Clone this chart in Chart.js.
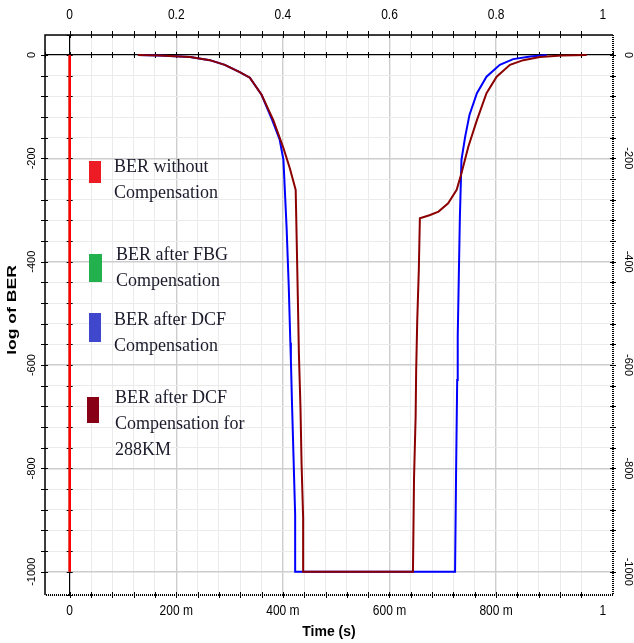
<!DOCTYPE html>
<html>
<head>
<meta charset="utf-8">
<title>log of BER</title>
<script src="https://cdn.jsdelivr.net/npm/chart.js@4.4.1/dist/chart.umd.min.js"></script>
<style>
  html, body { margin: 0; padding: 0; background: #fff; }
  #wrap { width: 634px; height: 643px; }
</style>
</head>
<body>
<div id="wrap"><canvas id="berChart" width="634" height="643"></canvas></div>
<script>
// BER traces vs time (s)
const seriesNames = [
  "BER without Compensation",
  "BER after FBG Compensation",
  "BER after DCF Compensation",
  "BER after DCF Compensation for 288KM"
];
const legendLines = [
  ["BER without", "Compensation"],
  ["BER after FBG", "Compensation"],
  ["BER after DCF", "Compensation"],
  ["BER after DCF", "Compensation for", "288KM"]
];

const redTime = [0, 0];
const redBer = [0, -1000];

const greenTime = [0, 0];
const greenBer = [0, -1000];

const blueTime = [0.128, 0.169, 0.226, 0.263, 0.291, 0.319, 0.338, 0.360, 0.380, 0.394,
  0.401, 0.407, 0.411, 0.414, 0.415, 0.417, 0.420, 0.423, 0.423, 0.723,
  0.725, 0.727, 0.728, 0.730, 0.732, 0.735, 0.742, 0.750, 0.764, 0.782,
  0.807, 0.832, 0.864, 0.895];
const blueBer = [0, -1, -4, -10, -19, -33, -44, -77, -126, -164,
  -203, -335, -448, -557, -590, -671, -780, -890, -1000, -1000,
  -800, -629, -545, -430, -316, -203, -158, -116, -74, -42,
  -19, -8, -3, 0];

const brownTime = [0.128, 0.169, 0.226, 0.263, 0.291, 0.319, 0.338, 0.360, 0.382, 0.401,
  0.413, 0.424, 0.426, 0.428, 0.430, 0.433, 0.435, 0.438, 0.438, 0.644,
  0.646, 0.649, 0.650, 0.652, 0.655, 0.657, 0.675, 0.692, 0.710, 0.726,
  0.735, 0.748, 0.764, 0.782, 0.801, 0.826, 0.851, 0.882, 0.923, 0.970];
const brownBer = [0, -1, -4, -10, -19, -33, -44, -77, -126, -180,
  -219, -261, -364, -468, -577, -683, -790, -896, -1000, -1000,
  -820, -700, -613, -516, -416, -316, -310, -303, -287, -261,
  -229, -177, -126, -74, -42, -19, -10, -4, -1, 0];

// axis ticks
const xMajorTicks = [0, 0.2, 0.4, 0.6, 0.8, 1];
const topTickLabels = ["0", "0.2", "0.4", "0.6", "0.8", "1"];
const bottomTickLabels = ["0", "200 m", "400 m", "600 m", "800 m", "1"];
const yMajorTicks = [0, -200, -400, -600, -800, -1000];
const yTickLabels = ["0", "-200", "-400", "-600", "-800", "-1000"];

const X_MIN = -0.0463, X_MAX = 1.0193;
const Y_MIN = -1045, Y_MAX = 38.7;

const lineColors = ["#ff0000", "#22b14c", "#0000ff", "#8b0000"];
const legendColors = ["#ed1c24", "#22b14c", "#3f48cc", "#880015"];

function toPoints(xs, ys) {
  return xs.map((x, i) => ({ x: x, y: ys[i] }));
}

function isMajor(v, step) {
  return Math.abs(v / step - Math.round(v / step)) < 1e-6;
}

function gridColor(step) {
  return (c) => {
    const v = c.tick.value;
    if (Math.abs(v) < 1e-9) return "#000";
    return isMajor(v, step) ? "#cdcdcd" : "#ebebeb";
  };
}

function gridWidth(step) {
  return (c) => {
    const v = c.tick.value;
    if (Math.abs(v) < 1e-9) return 1.2;
    return isMajor(v, step) ? 1.4 : 1;
  };
}

function drawText(ctx, text, x, y, angle, sx, sy) {
  ctx.save();
  ctx.translate(x, y);
  ctx.rotate(angle);
  ctx.scale(sx, sy);
  ctx.fillText(text, 0, 0);
  ctx.restore();
}

// small tick marks on the zero lines
const zeroTicks = {
  id: "zeroTicks",
  beforeDatasetsDraw(chart) {
    const ctx = chart.ctx;
    const xs = chart.scales.x, ys = chart.scales.y;
    const x0 = xs.getPixelForValue(0), y0 = ys.getPixelForValue(0);
    ctx.save();
    ctx.strokeStyle = "#000";
    ctx.lineWidth = 1;
    ctx.beginPath();
    xs.ticks.forEach((t) => {
      const px = Math.round(xs.getPixelForValue(t.value)) + 0.5;
      ctx.moveTo(px, y0 - 3);
      ctx.lineTo(px, y0 + 3);
    });
    ys.ticks.forEach((t) => {
      const py = Math.round(ys.getPixelForValue(t.value)) + 0.5;
      ctx.moveTo(x0 - 3, py);
      ctx.lineTo(x0 + 3, py);
    });
    ctx.stroke();
    ctx.restore();
  }
};

const legendBoxes = [
  { x: 89, y: 161, w: 12, h: 22, tx: 114, ty: 172 },
  { x: 89, y: 254, w: 13, h: 28, tx: 116, ty: 260 },
  { x: 89, y: 313, w: 12, h: 29, tx: 114, ty: 325 },
  { x: 87, y: 397, w: 12, h: 26, tx: 115, ty: 403 }
];

// plot frame, border ticks, tick labels, titles and legend
const frame = {
  id: "frame",
  afterDatasetsDraw(chart) {
    const ctx = chart.ctx;
    const a = chart.chartArea;
    const xs = chart.scales.x, ys = chart.scales.y;
    ctx.save();
    ctx.strokeStyle = "#000";

    ctx.lineWidth = 1.5;
    ctx.beginPath();
    ctx.moveTo(a.left, a.bottom);
    ctx.lineTo(a.left, a.top);
    ctx.lineTo(a.right, a.top);
    ctx.stroke();

    ctx.lineWidth = 2;
    ctx.setLineDash([1, 1]);
    ctx.beginPath();
    ctx.moveTo(a.right, a.top);
    ctx.lineTo(a.right, a.bottom);
    ctx.lineTo(a.left, a.bottom);
    ctx.stroke();
    ctx.setLineDash([]);

    ctx.lineWidth = 1;
    ctx.beginPath();
    xs.ticks.forEach((t) => {
      if (t.value < X_MIN + 0.01 || t.value > X_MAX - 0.01) return;
      const px = Math.round(xs.getPixelForValue(t.value)) + 0.5;
      ctx.moveTo(px, a.top - 4);
      ctx.lineTo(px, a.top + 3);
      ctx.moveTo(px, a.bottom - 3);
      ctx.lineTo(px, a.bottom + 3);
    });
    ys.ticks.forEach((t) => {
      if (t.value < Y_MIN + 10 || t.value > Y_MAX - 10) return;
      const py = Math.round(ys.getPixelForValue(t.value)) + 0.5;
      ctx.moveTo(a.left - 4, py);
      ctx.lineTo(a.left + 3, py);
      ctx.moveTo(a.right - 3, py);
      ctx.lineTo(a.right + 3, py);
    });
    ctx.stroke();

    // legend
    legendBoxes.forEach((b, i) => {
      ctx.fillStyle = legendColors[i];
      ctx.fillRect(b.x, b.y, b.w, b.h);
      ctx.fillStyle = "#1b1b2b";
      ctx.font = "18px 'Liberation Serif', 'Times New Roman', serif";
      ctx.textAlign = "left";
      ctx.textBaseline = "alphabetic";
      legendLines[i].forEach((line, j) => {
        ctx.fillText(line, b.tx, b.ty + j * 26);
      });
    });
    ctx.restore();
  },
  afterDraw(chart) {
    const ctx = chart.ctx;
    const a = chart.chartArea;
    const xs = chart.scales.x, ys = chart.scales.y;
    ctx.save();
    ctx.fillStyle = "#000";
    ctx.textAlign = "center";
    ctx.textBaseline = "middle";
    ctx.font = "12px 'Liberation Sans', Arial, sans-serif";
    xMajorTicks.forEach((v, i) => {
      const px = xs.getPixelForValue(v);
      drawText(ctx, topTickLabels[i], px, 15, 0, 1, 1.25);
      drawText(ctx, bottomTickLabels[i], px, 611, 0, 1, 1.25);
    });
    ctx.font = "11px 'Liberation Sans', Arial, sans-serif";
    yMajorTicks.forEach((v, i) => {
      const py = ys.getPixelForValue(v);
      drawText(ctx, yTickLabels[i], 32, py, -Math.PI / 2, 1, 1);
      drawText(ctx, yTickLabels[i], 628, py, Math.PI / 2, 1, 1);
    });
    ctx.font = "bold 14px 'Liberation Sans', Arial, sans-serif";
    drawText(ctx, "Time (s)", (a.left + a.right) / 2, 632, 0, 1, 1.1);
    ctx.font = "bold 13px 'Liberation Sans', Arial, sans-serif";
    drawText(ctx, "log of BER", 12, 310, -Math.PI / 2, 1.35, 1);
    ctx.restore();
  }
};

const datasets = [
  { label: seriesNames[0], data: toPoints(redTime, redBer), borderColor: lineColors[0], borderWidth: 2.6, order: 0 },
  { label: seriesNames[1], data: toPoints(greenTime, greenBer), borderColor: lineColors[1], borderWidth: 2, order: 3 },
  { label: seriesNames[2], data: toPoints(blueTime, blueBer), borderColor: lineColors[2], borderWidth: 2, order: 2 },
  { label: seriesNames[3], data: toPoints(brownTime, brownBer), borderColor: lineColors[3], borderWidth: 2, order: 1 }
].map((d) => Object.assign(d, {
  showLine: true,
  pointRadius: 0,
  tension: 0,
  fill: false,
  xAxisID: "x",
  yAxisID: "y"
}));

new Chart(document.getElementById("berChart"), {
  type: "scatter",
  data: { datasets: datasets },
  options: {
    responsive: false,
    animation: false,
    devicePixelRatio: 1,
    layout: { padding: 0 },
    plugins: { legend: { display: false }, tooltip: { enabled: false } },
    scales: {
      x: {
        type: "linear", position: "bottom", min: X_MIN, max: X_MAX,
        ticks: { stepSize: 0.04, display: false },
        grid: { color: gridColor(0.2), lineWidth: gridWidth(0.2), drawTicks: false },
        border: { display: false },
        afterFit(s) { s.height = 48; }
      },
      x2: {
        type: "linear", position: "top", min: X_MIN, max: X_MAX,
        ticks: { display: false }, grid: { display: false }, border: { display: false },
        afterFit(s) { s.height = 35; }
      },
      y: {
        type: "linear", position: "left", min: Y_MIN, max: Y_MAX,
        ticks: { stepSize: 40, display: false },
        grid: { color: gridColor(200), lineWidth: gridWidth(200), drawTicks: false },
        border: { display: false },
        afterFit(s) { s.width = 45; }
      },
      y2: {
        type: "linear", position: "right", min: Y_MIN, max: Y_MAX,
        ticks: { display: false }, grid: { display: false }, border: { display: false },
        afterFit(s) { s.width = 21; }
      }
    }
  },
  plugins: [zeroTicks, frame]
});
</script>
</body>
</html>
